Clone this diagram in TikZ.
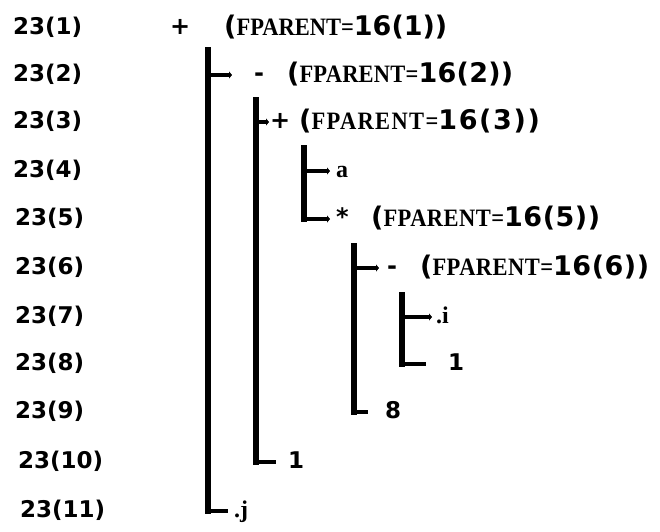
\documentclass[tikz,border=0pt]{standalone}
\usepackage{graphicx}
\usepackage{fontspec}
\setmainfont{Liberation Serif}
\newfontfamily\typeserif{Liberation Serif}
\newfontfamily\typesans{DejaVu Sans}
\usetikzlibrary{arrows.meta}

% annotation "(FPARENT=16(k))": serif letters, sans digits and brackets; optional letter spacing
\newcommand\fpar[2][0]{{\typesans\bfseries\fontsize{27}{27}\selectfont\addfontfeature{LetterSpace=#1}(}\scalebox{0.9}[1]{\typeserif\bfseries\fontsize{25}{25}\selectfont\addfontfeature{LetterSpace=#1}FPARENT=}{\typesans\bfseries\fontsize{27}{27}\selectfont\addfontfeature{LetterSpace=#1}16(#2))}}

\tikzset{
  lab/.style={anchor=west, inner sep=0pt, text height=17pt, text depth=5pt,
    font=\typesans\bfseries\fontsize{23}{23}\selectfont},
  op/.style={anchor=west, inner sep=0pt, text height=18pt, text depth=5pt,
    font=\typesans\bfseries\fontsize{24}{24}\selectfont},
  lit/.style={anchor=west, inner sep=0pt, text height=18pt, text depth=5pt,
    font=\typeserif\bfseries\fontsize{24}{24}\selectfont},
  num/.style={anchor=west, inner sep=0pt, text height=18pt, text depth=5pt,
    font=\typesans\bfseries\fontsize{23}{23}\selectfont},
  ann/.style={anchor=west, inner sep=0pt, text height=20pt, text depth=5pt},
  vline/.style={line width=6pt, line cap=rect},
  tick/.style={line width=4pt, -{Triangle[length=3pt,width=7pt]}},
  foot/.style={line width=4pt}
}

\begin{document}
\begin{tikzpicture}[x=1pt,y=-1pt]
\useasboundingbox (0,0) rectangle (660,531);

% row labels
\node[lab] (l1)  at (13,28)  {23(1)};
\node[lab] (l2)  at (13,75)  {23(2)};
\node[lab] (l3)  at (13,122) {23(3)};
\node[lab] (l4)  at (13,171) {23(4)};
\node[lab] (l5)  at (15,219) {23(5)};
\node[lab] (l6)  at (15,268) {23(6)};
\node[lab] (l7)  at (15,317) {23(7)};
\node[lab] (l8)  at (15,364) {23(8)};
\node[lab] (l9)  at (15,412) {23(9)};
\node[lab] (l10) at (18,462) {23(10)};
\node[lab] (l11) at (20,511) {23(11)};

% tree nodes
\node[op]  (n1)  at (170,28)  {+};
\node[ann] (p1)  at (224,28)  {\fpar{1}};
\node[op]  (n2)  at (254,75)  {-};
\node[ann] (p2)  at (287,75)  {\fpar[1]{2}};
\node[op]  (n3)  at (270,122) {+};
\node[ann] (p3)  at (299,122) {\fpar[6]{3}};
\node[lit] (n4)  at (336,171) {a};
\node[op]  (n5)  at (336,219) {*};
\node[ann] (p5)  at (371,219) {\fpar[2]{5}};
\node[op]  (n6)  at (387,268) {-};
\node[ann] (p6)  at (420,268) {\fpar[2]{6}};
\node[lit] (n7)  at (436,317) {.i};
\node[num] (n8)  at (448,364) {1};
\node[num] (n9)  at (385,412) {8};
\node[num] (n10) at (288,462) {1};
\node[lit] (n11) at (234,511) {.j};

% vertical rules, one per operator with children
\coordinate (v1) at (208,50);
\coordinate (v2) at (256,100);
\coordinate (v3) at (304,148);
\coordinate (v4) at (354,246);
\coordinate (v5) at (402,295);

\draw[vline] (v1) -- (v1 |- n11.west);
\draw[vline] (v2) -- (v2 |- n10.west);
\draw[vline] (v3) -- (v3 |- n5.west);
\draw[vline] (v4) -- (v4 |- n9.west);
\draw[vline] (v5) -- (v5 |- n8.west);

% branches
\draw[tick] (v1 |- n2.west) -- ([xshift=-22pt]n2.west);
\draw[foot] (v1 |- n11.west) -- ([xshift=-6pt]n11.west);
\draw[tick] (v2 |- n3.west) -- ([xshift=-1pt]n3.west);
\draw[foot] (v2 |- n10.west) -- ([xshift=-12pt]n10.west);
\draw[tick] (v3 |- n4.west) -- ([xshift=-6pt]n4.west);
\draw[tick] (v3 |- n5.west) -- ([xshift=-6pt]n5.west);
\draw[tick] (v4 |- n6.west) -- ([xshift=-8pt]n6.west);
\draw[foot] (v4 |- n9.west) -- ([xshift=-17pt]n9.west);
\draw[tick] (v5 |- n7.west) -- ([xshift=-4pt]n7.west);
\draw[foot] (v5 |- n8.west) -- ([xshift=-22pt]n8.west);
\end{tikzpicture}
\end{document}
